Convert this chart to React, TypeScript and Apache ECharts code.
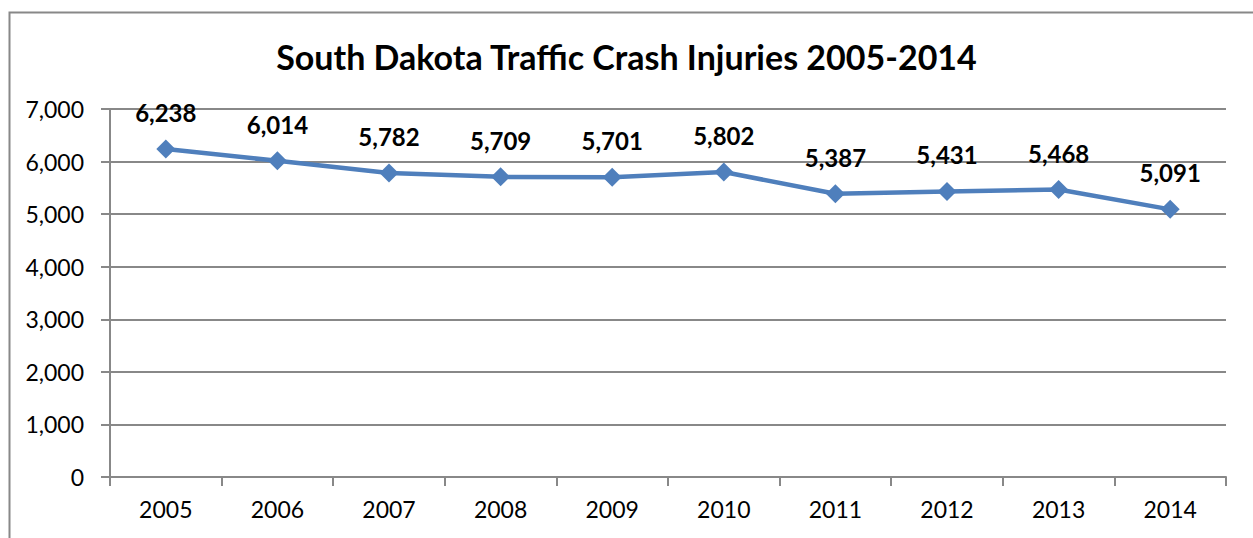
import React, { useEffect, useRef } from "react";
import * as echarts from "echarts";

const years = ["2005", "2006", "2007", "2008", "2009", "2010", "2011", "2012", "2013", "2014"];
const injuries = [6238, 6014, 5782, 5709, 5701, 5802, 5387, 5431, 5468, 5091];
const titleText = "South Dakota Traffic Crash Injuries 2005-2014";

const fmt = (v: number) => v.toLocaleString("en-US");

export default function App() {
  const ref = useRef<HTMLDivElement>(null);
  useEffect(() => {
    document.body.style.margin = "0";
    const chart = echarts.init(ref.current!, null, { renderer: "svg" });
    const font = "Lato, 'Open Sans', sans-serif";
    chart.setOption({
      animation: false,
      backgroundColor: "#ffffff",
      textStyle: { fontFamily: font },
      title: {
        text: titleText,
        left: "center",
        top: 34,
        textStyle: { fontSize: 34, fontWeight: "bold", color: "#000", fontFamily: font },
      },
      graphic: [
        {
          type: "rect",
          left: 7,
          top: 10,
          shape: { width: 1260, height: 560 },
          style: { fill: "none", stroke: "#888", lineWidth: 2 },
          silent: true,
        },
      ],
      grid: { left: 110, right: 27, top: 109, bottom: 61, containLabel: false },
      xAxis: {
        type: "category",
        data: years,
        boundaryGap: true,
        axisLine: { lineStyle: { color: "#888", width: 2 } },
        axisTick: { show: true, length: 9, alignWithLabel: false, lineStyle: { color: "#888", width: 2 } },
        axisLabel: { color: "#000", fontSize: 23, margin: 20, fontFamily: font },
      },
      yAxis: {
        type: "value",
        min: 0,
        max: 7000,
        interval: 1000,
        axisLine: { show: true, lineStyle: { color: "#888", width: 2 } },
        axisTick: { show: true, length: 9, lineStyle: { color: "#888", width: 2 } },
        splitLine: { lineStyle: { color: "#888", width: 2 } },
        axisLabel: { color: "#000", fontSize: 23, margin: 26, formatter: (v: number) => fmt(v), fontFamily: font },
      },
      series: [
        {
          type: "line",
          data: injuries,
          symbol: "diamond",
          symbolSize: 19,
          itemStyle: { color: "#4F7FBC" },
          lineStyle: { color: "#4F7FBC", width: 4.5 },
          label: {
            show: true,
            position: "top",
            distance: 15,
            fontSize: 24,
            fontWeight: "bold",
            color: "#000",
            fontFamily: font,
            formatter: (p: any) => fmt(p.value),
          },
        },
      ],
    });
    return () => chart.dispose();
  }, []);
  return <div ref={ref} style={{ width: 1253, height: 538 }} />;
}
